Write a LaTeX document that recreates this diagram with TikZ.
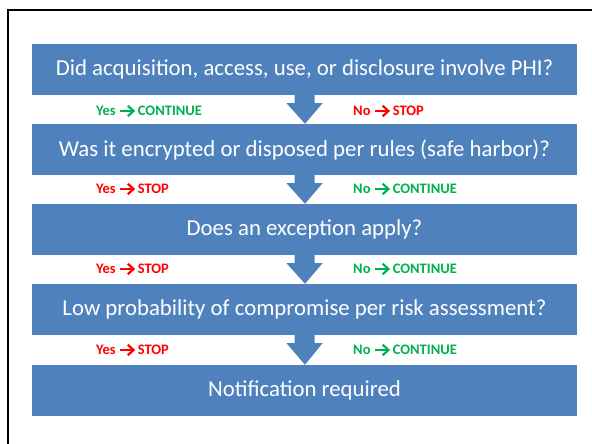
\documentclass[tikz,border=0pt]{standalone}
\usepackage{fontspec}
\setmainfont{Carlito}
\definecolor{boxblue}{HTML}{4F81BD}
\definecolor{gogreen}{HTML}{00B050}
\definecolor{stopred}{HTML}{FF0000}
\newcommand{\rarr}{\tikz[baseline=0pt,x=1pt,y=1pt]{\draw[line width=2.2pt] (0,4.7) -- (13,4.7);
  \draw[line width=2.2pt,line join=miter] (7.8,9.9) -- (13.5,4.7) -- (7.8,-0.5);}}
\begin{document}
\begin{tikzpicture}[x=1pt,y=-1pt,
  qbox/.style={fill=boxblue,text=white,minimum width=545pt,minimum height=51pt,inner sep=0pt,font=\fontsize{22.8}{26}\selectfont},
  lbl/.style={anchor=west,inner sep=0pt,font=\fontsize{14.5}{16}\selectfont\bfseries},
  yesgo/.style={lbl,text=gogreen},
  nostop/.style={lbl,text=stopred},
  downarrow/.style={fill=boxblue}]
\useasboundingbox (0,0) rectangle (592,444);
\fill[white] (0,0) rectangle (592,444);
\draw[line width=2pt] (8,444) -- (8,10) -- (592,10);

\node[qbox] (b1) at (304.5,69.5) {Did acquisition, access, use, or disclosure involve PHI?};
\node[qbox] (b2) at (304.5,149.5) {Was it encrypted or disposed per rules (safe harbor)?};
\node[qbox] (b3) at (304.5,229.5) {Does an exception apply?};
\node[qbox] (b4) at (304.5,309.5) {Low probability of compromise per risk assessment?};
\node[qbox] (b5) at (304.5,390.5) {Notification required};

\foreach \a/\b in {b1/b2,b2/b3,b3/b4,b4/b5}{
  \fill[downarrow] ([xshift=-10pt]\a.south) -- ([xshift=-10pt,yshift=-8pt]\a.south)
    -- ([xshift=-18pt,yshift=-8pt]\a.south) -- ([xshift=0.5pt]\b.north)
    -- ([xshift=18pt,yshift=-8pt]\a.south) -- ([xshift=10pt,yshift=-8pt]\a.south)
    -- ([xshift=10pt]\a.south) -- cycle;
}

\node[yesgo] (l1y) at (96,111) {Yes \rarr{} CONTINUE};
\node[nostop] (l1n) at (353,111) {No \rarr{} STOP};
\node[nostop] (l2y) at (96,189) {Yes \rarr{} STOP};
\node[yesgo] (l2n) at (353,189) {No \rarr{} CONTINUE};
\node[nostop] (l3y) at (96,269) {Yes \rarr{} STOP};
\node[yesgo] (l3n) at (353,269) {No \rarr{} CONTINUE};
\node[nostop] (l4y) at (96,350) {Yes \rarr{} STOP};
\node[yesgo] (l4n) at (353,350) {No \rarr{} CONTINUE};
\end{tikzpicture}
\end{document}
